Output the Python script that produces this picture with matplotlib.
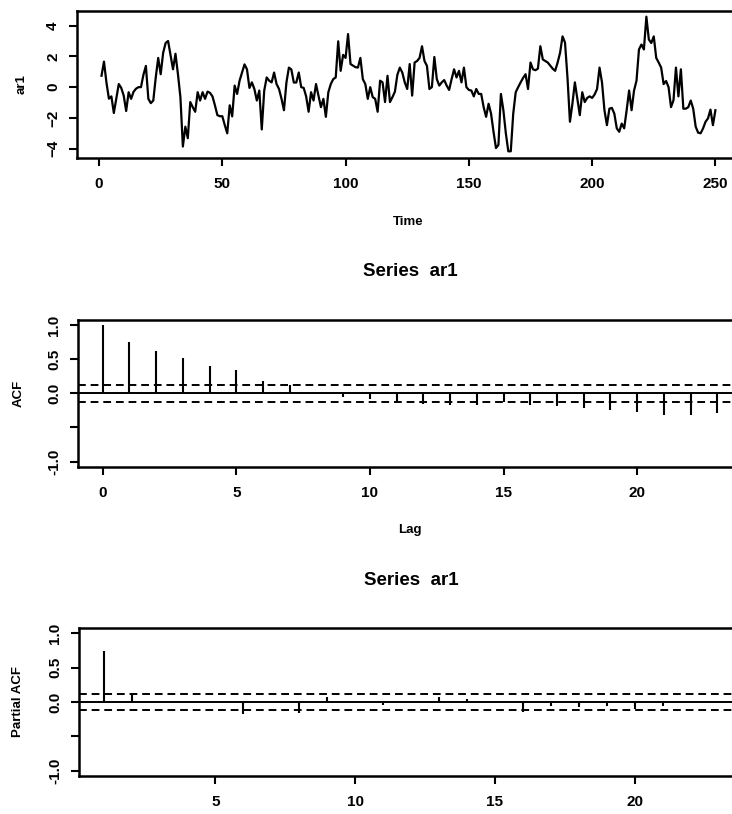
import numpy as np
import matplotlib
matplotlib.use("agg")
import matplotlib.pyplot as plt

# simulated AR(1) series (t = 1..250)
ar1 = [0.74, 1.66, 0.3, -0.75, -0.6, -1.68, -0.75, 0.2, -0.05, -0.55,
       -1.55, -0.33, -0.76, -0.3, -0.1, 0.0, 0.0, 0.8, 1.38, -0.76,
       -1.04, -0.87, 0.63, 1.9, 0.84, 2.23, 2.87, 3.0, 2.1, 1.16,
       2.17, 0.84, -0.65, -3.86, -2.57, -3.32, -0.97, -1.3, -1.6, -0.33,
       -0.87, -0.33, -0.76, -0.29, -0.37, -0.6, -1.18, -1.82, -1.89, -1.89,
       -2.47, -3.0, -1.18, -1.9, 0.1, -0.44, 0.42, 0.95, 1.48, 1.16,
       -0.05, 0.31, -0.12, -0.87, -0.22, -2.75, -0.22, 0.63, 0.42, 0.31,
       0.95, 0.2, -0.12, -0.75, -1.5, 0.3, 1.27, 1.15, 0.3, 0.3,
       0.95, 0.0, -0.05, -0.6, -1.6, -0.33, -0.87, 0.2, -0.55, -1.3,
       -0.76, -1.93, -0.33, 0.2, 0.52, 0.63, 2.98, 1.06, 2.1, 1.9,
       3.45, 1.5, 1.4, 1.3, 1.27, 1.9, 0.52, 0.2, -0.76, 0.0,
       -0.65, -0.76, -1.6, 0.42, 0.31, -0.97, 0.74, -0.97, -0.65, -0.3,
       0.8, 1.27, 0.95, 0.31, -0.12, 1.5, -0.55, 1.6, 1.7, 1.9,
       2.66, 1.7, 1.38, -0.12, 0.0, 1.96, 0.52, 0.1, 0.31, 0.46,
       0.1, -0.18, 0.52, 1.16, 0.63, 1.06, 0.31, 1.27, 0.0, -0.18,
       -0.22, -0.6, -0.12, -0.44, -0.44, -1.3, -1.93, -1.08, -1.72, -2.9,
       -3.96, -3.75, -0.44, -1.5, -3.0, -4.17, -4.17, -1.72, -0.33, 0.0,
       0.31, 0.6, 0.84, -0.12, 1.6, 1.16, 1.1, 1.2, 2.66, 1.8,
       1.7, 1.6, 1.4, 1.2, 1.06, 1.6, 2.23, 3.3, 2.9, 0.63,
       -2.25, -1.08, 0.31, -0.76, -1.82, -0.33, -0.97, -0.7, -0.6, -0.7,
       -0.48, -0.12, 1.27, 0.31, -1.5, -2.47, -1.4, -1.35, -1.72, -2.68,
       -2.9, -2.37, -2.68, -1.5, -0.22, -1.5, -0.22, 0.42, 2.45, 2.77,
       2.45, 4.58, 3.1, 2.87, 3.3, 1.9, 1.6, 1.27, 0.2, 0.4,
       0.0, -1.3, -0.85, 1.27, -0.6, 1.16, -1.4, -1.4, -1.3, -0.87,
       -1.4, -2.57, -2.96, -3.0, -2.68, -2.25, -2.03, -1.46, -2.47, -1.5]
time = np.arange(1, len(ar1) + 1)

acf_lags = np.arange(0, 24)
acf_vals = [1.0, 0.75, 0.63, 0.52, 0.41, 0.35, 0.19, 0.12, 0.01, -0.05,
            -0.08, -0.13, -0.15, -0.17, -0.17, -0.12, -0.17, -0.19, -0.22, -0.24,
            -0.27, -0.31, -0.31, -0.29]

pacf_lags = np.arange(1, 24)
pacf_vals = [0.75, 0.11, 0.0, 0.01, 0.0, -0.18, -0.02, -0.16, 0.07, 0.01,
             -0.05, -0.02, 0.08, 0.04, -0.01, -0.15, -0.06, -0.07, -0.06, -0.10,
             -0.06, -0.01, 0.02]

clim = 1.96 / np.sqrt(len(ar1))

plt.rcParams['font.family'] = ['Liberation Sans', 'DejaVu Sans']
plt.rcParams['font.weight'] = 'bold'

fig = plt.figure(figsize=(7.32, 8.14), dpi=100)
fig.patch.set_facecolor('white')


def style(ax):
    for s in ax.spines.values():
        s.set_linewidth(1.8)
    ax.tick_params(direction='out', length=6, width=1.5, labelsize=11, pad=8)
    ax.tick_params(axis='y', pad=6)
    for lab in ax.get_yticklabels():
        lab.set_rotation(90)
        lab.set_va('center')


# time series plot
ax1 = fig.add_axes([0.105, 0.806, 0.906, 0.1805])
ax1.plot(time, ar1, color='black', lw=1.6)
ax1.set_xlim(-9, 260)
ax1.set_ylim(-4.6, 4.95)
ax1.set_xticks([0, 50, 100, 150, 200, 250])
ax1.set_yticks([-4, -2, 0, 2, 4])
style(ax1)
ax1.set_xlabel('Time', fontsize=9.5, fontweight='bold', va='center')
ax1.xaxis.set_label_coords(0.5, -0.435)
ax1.set_ylabel('ar1', fontsize=9.5, fontweight='bold', va='center')
ax1.yaxis.set_label_coords(-0.083, 0.5)

# ACF
ax2 = fig.add_axes([0.1066, 0.4263, 0.907, 0.1807])
ax2.vlines(acf_lags, 0, acf_vals, color='black', lw=1.5)
ax2.axhline(0, color='black', lw=1.4)
for c in (clim, -clim):
    ax2.axhline(c, color='black', lw=1.4, ls=(0, (4, 2.5)))
ax2.set_xlim(-0.92, 23.92)
ax2.set_ylim(-1.08, 1.08)
ax2.set_xticks([0, 5, 10, 15, 20])
ax2.set_yticks([-1.0, -0.5, 0.0, 0.5, 1.0])
ax2.set_yticklabels(['-1.0', '', '0.0', '0.5', '1.0'])
style(ax2)
ax2.set_title('Series  ar1', fontsize=13.5, fontweight='bold', y=1.272, va='center')
ax2.set_xlabel('Lag', fontsize=9.5, fontweight='bold', va='center')
ax2.xaxis.set_label_coords(0.5, -0.43)
ax2.set_ylabel('ACF', fontsize=9.5, fontweight='bold', va='center')
ax2.yaxis.set_label_coords(-0.090, 0.5)

# PACF (its "Lag" label falls below the cropped page, as in the scan)
ax3 = fig.add_axes([0.108, 0.0467, 0.907, 0.1818])
ax3.vlines(pacf_lags, 0, pacf_vals, color='black', lw=1.5)
ax3.axhline(0, color='black', lw=1.4)
for c in (clim, -clim):
    ax3.axhline(c, color='black', lw=1.4, ls=(0, (4, 2.5)))
ax3.set_xlim(0.12, 23.88)
ax3.set_ylim(-1.08, 1.08)
ax3.set_xticks([5, 10, 15, 20])
ax3.set_yticks([-1.0, -0.5, 0.0, 0.5, 1.0])
ax3.set_yticklabels(['-1.0', '', '0.0', '0.5', '1.0'])
style(ax3)
ax3.set_title('Series  ar1', fontsize=13.5, fontweight='bold', y=1.265, va='center')
ax3.set_ylabel('Partial ACF', fontsize=9.5, fontweight='bold', va='center')
ax3.yaxis.set_label_coords(-0.092, 0.5)

fig.savefig('out.png', dpi=100)
